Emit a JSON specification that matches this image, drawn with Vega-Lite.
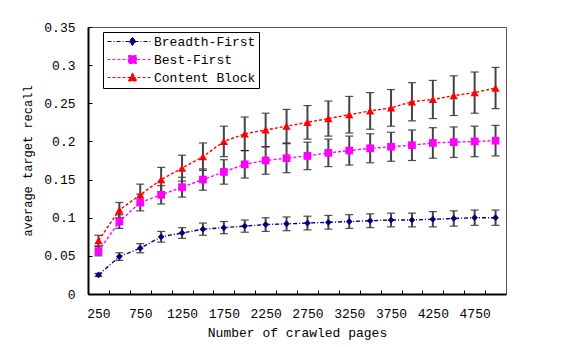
{
  "$schema": "https://vega.github.io/schema/vega-lite/v6.json",
  "width": 418,
  "height": 267,
  "autosize": "none",
  "padding": {"left": 88, "top": 27, "right": 60, "bottom": 53},
  "background": "white",
  "config": {
    "view": {"stroke": "#555", "strokeWidth": 1},
    "font": "Liberation Mono"
  },
  "data": {
    "values": [
      {"pages": 250, "method": "Breadth-First", "recall": 0.025, "err": 0.002},
      {"pages": 500, "method": "Breadth-First", "recall": 0.049, "err": 0.005},
      {"pages": 750, "method": "Breadth-First", "recall": 0.060, "err": 0.006},
      {"pages": 1000, "method": "Breadth-First", "recall": 0.075, "err": 0.007},
      {"pages": 1250, "method": "Breadth-First", "recall": 0.080, "err": 0.007},
      {"pages": 1500, "method": "Breadth-First", "recall": 0.085, "err": 0.008},
      {"pages": 1750, "method": "Breadth-First", "recall": 0.087, "err": 0.008},
      {"pages": 2000, "method": "Breadth-First", "recall": 0.089, "err": 0.008},
      {"pages": 2250, "method": "Breadth-First", "recall": 0.091, "err": 0.009},
      {"pages": 2500, "method": "Breadth-First", "recall": 0.092, "err": 0.009},
      {"pages": 2750, "method": "Breadth-First", "recall": 0.093, "err": 0.009},
      {"pages": 3000, "method": "Breadth-First", "recall": 0.094, "err": 0.009},
      {"pages": 3250, "method": "Breadth-First", "recall": 0.095, "err": 0.009},
      {"pages": 3500, "method": "Breadth-First", "recall": 0.096, "err": 0.009},
      {"pages": 3750, "method": "Breadth-First", "recall": 0.097, "err": 0.009},
      {"pages": 4000, "method": "Breadth-First", "recall": 0.097, "err": 0.009},
      {"pages": 4250, "method": "Breadth-First", "recall": 0.098, "err": 0.010},
      {"pages": 4500, "method": "Breadth-First", "recall": 0.099, "err": 0.010},
      {"pages": 4750, "method": "Breadth-First", "recall": 0.100, "err": 0.010},
      {"pages": 5000, "method": "Breadth-First", "recall": 0.100, "err": 0.010},
      {"pages": 250, "method": "Best-First", "recall": 0.056, "err": 0.006},
      {"pages": 500, "method": "Best-First", "recall": 0.095, "err": 0.009},
      {"pages": 750, "method": "Best-First", "recall": 0.120, "err": 0.011},
      {"pages": 1000, "method": "Best-First", "recall": 0.130, "err": 0.012},
      {"pages": 1250, "method": "Best-First", "recall": 0.140, "err": 0.013},
      {"pages": 1500, "method": "Best-First", "recall": 0.150, "err": 0.014},
      {"pages": 1750, "method": "Best-First", "recall": 0.160, "err": 0.016},
      {"pages": 2000, "method": "Best-First", "recall": 0.170, "err": 0.018},
      {"pages": 2250, "method": "Best-First", "recall": 0.175, "err": 0.018},
      {"pages": 2500, "method": "Best-First", "recall": 0.178, "err": 0.019},
      {"pages": 2750, "method": "Best-First", "recall": 0.181, "err": 0.018},
      {"pages": 3000, "method": "Best-First", "recall": 0.185, "err": 0.018},
      {"pages": 3250, "method": "Best-First", "recall": 0.188, "err": 0.019},
      {"pages": 3500, "method": "Best-First", "recall": 0.191, "err": 0.019},
      {"pages": 3750, "method": "Best-First", "recall": 0.193, "err": 0.019},
      {"pages": 4000, "method": "Best-First", "recall": 0.195, "err": 0.020},
      {"pages": 4250, "method": "Best-First", "recall": 0.198, "err": 0.020},
      {"pages": 4500, "method": "Best-First", "recall": 0.199, "err": 0.020},
      {"pages": 4750, "method": "Best-First", "recall": 0.200, "err": 0.020},
      {"pages": 5000, "method": "Best-First", "recall": 0.201, "err": 0.020},
      {"pages": 250, "method": "Content Block", "recall": 0.070, "err": 0.007},
      {"pages": 500, "method": "Content Block", "recall": 0.110, "err": 0.010},
      {"pages": 750, "method": "Content Block", "recall": 0.130, "err": 0.014},
      {"pages": 1000, "method": "Content Block", "recall": 0.150, "err": 0.016},
      {"pages": 1250, "method": "Content Block", "recall": 0.165, "err": 0.017},
      {"pages": 1500, "method": "Content Block", "recall": 0.180, "err": 0.018},
      {"pages": 1750, "method": "Content Block", "recall": 0.200, "err": 0.020},
      {"pages": 2000, "method": "Content Block", "recall": 0.210, "err": 0.022},
      {"pages": 2250, "method": "Content Block", "recall": 0.215, "err": 0.022},
      {"pages": 2500, "method": "Content Block", "recall": 0.220, "err": 0.022},
      {"pages": 2750, "method": "Content Block", "recall": 0.225, "err": 0.022},
      {"pages": 3000, "method": "Content Block", "recall": 0.230, "err": 0.023},
      {"pages": 3250, "method": "Content Block", "recall": 0.235, "err": 0.024},
      {"pages": 3500, "method": "Content Block", "recall": 0.240, "err": 0.024},
      {"pages": 3750, "method": "Content Block", "recall": 0.244, "err": 0.024},
      {"pages": 4000, "method": "Content Block", "recall": 0.252, "err": 0.025},
      {"pages": 4250, "method": "Content Block", "recall": 0.255, "err": 0.025},
      {"pages": 4500, "method": "Content Block", "recall": 0.260, "err": 0.026},
      {"pages": 4750, "method": "Content Block", "recall": 0.264, "err": 0.027},
      {"pages": 5000, "method": "Content Block", "recall": 0.270, "err": 0.027}
    ]
  },
  "encoding": {
    "x": {
      "field": "pages",
      "type": "quantitative",
      "scale": {"domain": [125, 5125], "nice": false, "zero": false},
      "axis": {
        "title": "Number of crawled pages",
        "values": [375, 625, 875, 1125, 1375, 1625, 1875, 2125, 2375, 2625, 2875, 3125, 3375, 3625, 3875, 4125, 4375, 4625, 4875],
        "labelExpr": "datum.value % 500 == 375 ? format(datum.value - 125, 'd') : ''",
        "labelOffset": -10.45,
        "labelFlush": false,
        "labelOverlap": false,
        "grid": false,
        "tickSize": -4,
        "tickColor": "#000",
        "domainColor": "#000",
        "domainWidth": 2,
        "labelFont": "Liberation Mono",
        "labelFontSize": 13,
        "labelColor": "#000",
        "labelPadding": 17,
        "titleFont": "Liberation Mono",
        "titleFontSize": 13,
        "titleFontWeight": "normal",
        "titleColor": "#000",
        "titlePadding": 6
      }
    },
    "y": {
      "field": "recall",
      "type": "quantitative",
      "scale": {"domain": [0, 0.35], "nice": false},
      "axis": {
        "title": "average target recall",
        "values": [0, 0.05, 0.1, 0.15, 0.2, 0.25, 0.3, 0.35],
        "format": "~g",
        "grid": false,
        "tickSize": -4,
        "tickColor": "#000",
        "domainColor": "#000",
        "domainWidth": 2,
        "labelFont": "Liberation Mono",
        "labelFontSize": 13,
        "labelColor": "#000",
        "labelPadding": 17,
        "titleFont": "Liberation Mono",
        "titleFontSize": 12,
        "titleFontWeight": "normal",
        "titleColor": "#000",
        "titlePadding": 9
      }
    }
  },
  "layer": [
    {
      "mark": {
        "type": "errorbar",
        "ticks": {"size": 8, "color": "#000", "thickness": 1.2},
        "rule": {"color": "#444", "strokeWidth": 2}
      },
      "encoding": {
        "yError": {"field": "err"},
        "detail": {"field": "method", "type": "nominal"}
      }
    },
    {
      "mark": {"type": "line", "strokeWidth": 1.4},
      "encoding": {
        "color": {
          "field": "method",
          "type": "nominal",
          "scale": {"domain": ["Breadth-First", "Best-First", "Content Block"], "range": ["#000080", "#FF00FF", "#FF0000"]},
          "legend": {
            "orient": "none",
            "legendX": 15,
            "legendY": 5,
            "title": null,
            "strokeColor": "#000",
            "fillColor": "white",
            "padding": 3,
            "labelFont": "Liberation Mono",
            "labelFontSize": 13,
            "labelColor": "#000",
            "symbolSize": 100,
            "labelOffset": 35,
            "rowPadding": 4,
            "symbolStrokeWidth": 1,
            "encode": {
              "symbols": {
                "update": {
                  "shape": {"signal": "datum.value === 'Breadth-First' ? 'M-1,0H8M4,-0.8L4.7,0L4,0.8L3.3,0Z' : datum.value === 'Best-First' ? 'M-1,0H8M3.2,-0.8H4.8V0.8H3.2Z' : 'M-1,0H8M4,-0.9L4.9,0.7H3.1Z'"},
                  "fill": {"scale": "color", "field": "value"},
                  "stroke": {"scale": "color", "field": "value"},
                  "strokeDash": {"value": [3, 2]},
                  "strokeWidth": {"value": 1},
                  "opacity": {"value": 1},
                  "fillOpacity": {"value": 1}
                }
              }
            }
          }
        },
        "strokeDash": {
          "field": "method",
          "type": "nominal",
          "scale": {"domain": ["Breadth-First", "Best-First", "Content Block"], "range": [[4, 2, 1, 2], [3, 2], [3, 2]]},
          "legend": null
        }
      }
    },
    {
      "transform": [{"filter": "datum.method === 'Breadth-First'"}],
      "mark": {"type": "point", "filled": true, "opacity": 1, "shape": "diamond", "size": 45},
      "encoding": {"color": {"field": "method", "type": "nominal", "legend": null}}
    },
    {
      "transform": [{"filter": "datum.method === 'Best-First'"}],
      "mark": {"type": "point", "filled": true, "opacity": 1, "shape": "square", "size": 60},
      "encoding": {"color": {"field": "method", "type": "nominal", "legend": null}}
    },
    {
      "transform": [{"filter": "datum.method === 'Content Block'"}],
      "mark": {"type": "point", "filled": true, "opacity": 1, "shape": "triangle-up", "size": 70},
      "encoding": {"color": {"field": "method", "type": "nominal", "legend": null}}
    }
  ]
}
